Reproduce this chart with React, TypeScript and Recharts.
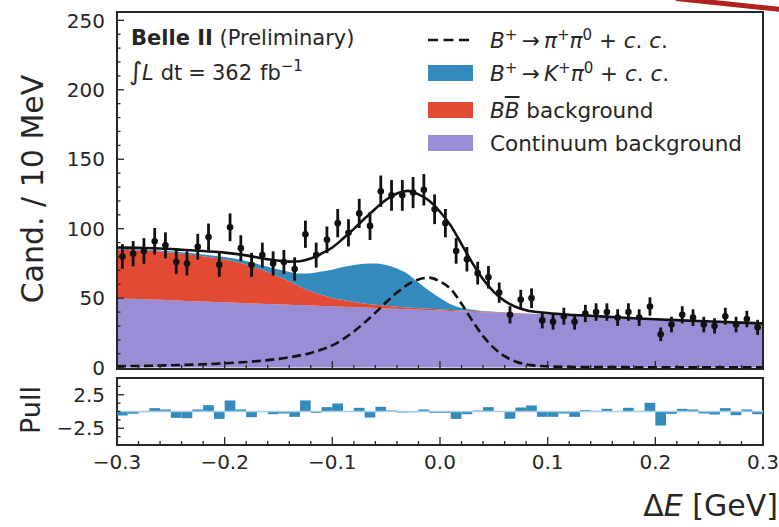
import React from 'react'
import {
  ComposedChart,
  Area,
  Line,
  Scatter,
  ErrorBar,
  Bar,
  XAxis,
  YAxis,
  ReferenceArea,
  ReferenceLine,
  Legend,
} from 'recharts'

const FONT = '"DejaVu Sans", sans-serif'
const INK = '#262626'
const PURPLE = '#988ED5'
const RED = '#E24A33'
const BLUE = '#348ABD'

// fit components, candidates / 10 MeV, on a Delta E grid [GeV]
const deGrid = [
  -0.3, -0.28, -0.26, -0.24, -0.22, -0.2, -0.18, -0.16,
  -0.14, -0.13, -0.12, -0.11, -0.1, -0.09, -0.08, -0.07, -0.06, -0.05, -0.04, -0.03, -0.02, -0.01,
  0, 0.01, 0.02, 0.03, 0.04, 0.05, 0.06, 0.07, 0.08,
  0.1, 0.12, 0.14, 0.16, 0.18, 0.2, 0.22, 0.24, 0.26, 0.28, 0.3,
]
const continuum = [
  50.0, 49.4, 48.8, 48.2, 47.6, 47.0, 46.4, 45.8,
  45.3, 45.0, 44.7, 44.4, 44.1, 43.8, 43.5, 43.2, 42.9, 42.6, 42.3, 42.0, 41.7, 41.4,
  41.1, 40.8, 40.5, 40.2, 39.9, 39.6, 39.3, 39.0, 38.7,
  38.2, 37.5, 36.8, 36.0, 35.2, 34.5, 33.9, 33.3, 32.7, 32.1, 31.5,
]
const bbBackground = [
  35.0, 35.0, 34.7, 33.8, 32.5, 30.8, 27.8, 23.0,
  16.8, 13.3, 10.3, 7.9, 6.1, 4.8, 3.8, 3.0, 2.4, 1.9, 1.5, 1.2, 1.0, 0.9,
  0.8, 0.7, 0.6, 0.6, 0.5, 0.5, 0.4, 0.4, 0.3,
  0.2, 0.1, 0.1, 0, 0, 0, 0, 0, 0, 0, 0,
]
const kpiSignal = [
  0.5, 0.6, 0.8, 1.0, 1.4, 1.9, 2.6, 3.8,
  6.8, 9.5, 13.0, 16.8, 20.3, 23.8, 26.6, 28.6, 29.6, 29.3, 27.5, 24.2, 18.5, 13.0,
  8.3, 4.2, 1.8, 0.8, 0.4, 0.2, 0.1, 0, 0,
  0, 0, 0, 0, 0, 0, 0, 0, 0, 0, 0,
]
const pipiSignal = [
  1.0, 1.2, 1.5, 1.9, 2.4, 3.1, 4.0, 5.4,
  7.4, 8.8, 10.5, 13.0, 16.0, 20.5, 26.0, 32.5, 39.5, 47.0, 54.0, 59.8, 63.5, 64.8,
  62.0, 56.5, 46.0, 33.8, 22.8, 14.2, 8.2, 4.4, 2.3,
  0.9, 0.5, 0.4, 0.4, 0.3, 0.3, 0.3, 0.3, 0.3, 0.3, 0.3,
]

// data, 10 MeV bins
const binCenters = [
  -0.295, -0.285, -0.275, -0.265, -0.255, -0.245, -0.235, -0.225, -0.215, -0.205,
  -0.195, -0.185, -0.175, -0.165, -0.155, -0.145, -0.135, -0.125, -0.115, -0.105,
  -0.095, -0.085, -0.075, -0.065, -0.055, -0.045, -0.035, -0.025, -0.015, -0.005,
  0.005, 0.015, 0.025, 0.035, 0.045, 0.055, 0.065, 0.075, 0.085, 0.095,
  0.105, 0.115, 0.125, 0.135, 0.145, 0.155, 0.165, 0.175, 0.185, 0.195,
  0.205, 0.215, 0.225, 0.235, 0.245, 0.255, 0.265, 0.275, 0.285, 0.295,
]
const counts = [
  80, 82, 84, 91, 88, 76, 75, 87, 94, 74,
  101, 86, 74, 81, 75, 76, 71, 96, 81, 92,
  104, 97, 111, 102, 127, 124, 124, 126, 128, 114,
  104, 84, 78, 68, 65, 54, 38, 49, 50, 34,
  33, 37, 33, 39, 40, 40, 36, 40, 36, 44,
  24, 31, 38, 36, 31, 30, 37, 31, 35, 29,
]
const countErrors = [
  8.9, 9.1, 9.2, 9.5, 9.4, 8.7, 8.7, 9.3, 9.7, 8.6,
  10.0, 9.3, 8.6, 9.0, 8.7, 8.7, 8.4, 9.8, 9.0, 9.6,
  10.2, 9.8, 10.5, 10.1, 11.3, 11.1, 11.1, 11.2, 11.3, 10.7,
  10.2, 9.2, 8.8, 8.2, 8.1, 7.3, 6.2, 7.0, 7.1, 5.8,
  5.7, 6.1, 5.7, 6.2, 6.3, 6.3, 6.0, 6.3, 6.0, 6.6,
  4.9, 5.6, 6.2, 6.0, 5.6, 5.5, 6.1, 5.6, 5.9, 5.4,
]
const pulls = [
  -0.6, -0.35, -0.1, 0.5, 0.3, -0.95, -1.0, 0.3, 0.95, -1.1,
  1.65, 0.3, -0.85, 0.0, -0.4, -0.3, -0.8, 1.65, -0.2, 0.65,
  1.2, 0.0, 0.55, -0.9, 0.7, 0.15, -0.15, -0.1, 0.3, -0.2,
  -0.2, -1.1, -0.4, 0.15, 0.65, 0.0, -1.1, 0.6, 0.9, -0.8,
  -0.8, -0.3, -0.8, 0.2, 0.1, 0.4, 0.0, 0.55, 0.05, 1.3,
  -2.1, -0.35, 0.4, 0.3, -0.3, -0.45, 0.5, -0.55, 0.3, -0.4,
]

const xTicks = [
  -0.3, -0.28, -0.26, -0.24, -0.22, -0.2, -0.18, -0.16, -0.14, -0.12, -0.1,
  -0.08, -0.06, -0.04, -0.02, 0, 0.02, 0.04, 0.06, 0.08, 0.1,
  0.12, 0.14, 0.16, 0.18, 0.2, 0.22, 0.24, 0.26, 0.28, 0.3,
]
const xMajor = [-0.3, -0.2, -0.1, 0, 0.1, 0.2, 0.3]
const yTicks = [
  0, 10, 20, 30, 40, 50, 60, 70, 80, 90, 100, 110, 120, 130, 140, 150,
  160, 170, 180, 190, 200, 210, 220, 230, 240, 250,
]
const yMajor = [0, 50, 100, 150, 200, 250]
const pullTicks = [-3.75, -2.5, -1.25, 0, 1.25, 2.5, 3.75]
const pullMajor = [-2.5, 2.5]

const X_DOMAIN: [number, number] = [-0.3, 0.3]
const Y_DOMAIN: [number, number] = [-1, 256]
const PULL_DOMAIN: [number, number] = [-5, 5]

const curveRows = deGrid.map((x, i) => ({
  x,
  cont: continuum[i],
  bb: bbBackground[i],
  kpi: kpiSignal[i],
  pipi: pipiSignal[i],
  total: continuum[i] + bbBackground[i] + kpiSignal[i] + pipiSignal[i],
}))
const binRows = binCenters.map((x, i) => ({ x, count: counts[i], err: countErrors[i] }))
const pullRows = binCenters.map((x, i) => ({ x, pull: pulls[i] }))

const near = (list: number[], v: number) => list.some((m) => Math.abs(m - v) < 1e-6)
const signed = (v: number, digits: number) =>
  (v < -1e-9 ? '\u2212' : '') + Math.abs(v).toFixed(digits)

// inward ticks; tickSize/tickMargin are 0 so (x, y) sits on the axis line
function BottomTick(props: any) {
  const { x, y, payload, showLabel } = props
  const major = near(xMajor, payload.value)
  return (
    <g>
      <line x1={x} x2={x} y1={y} y2={y - (major ? 8 : 4)} stroke={INK} strokeWidth={1.3} />
      {showLabel && major && (
        <text x={x} y={y + 24} textAnchor="middle" fontFamily={FONT} fontSize={20} fill={INK}>
          {signed(payload.value, 1)}
        </text>
      )}
    </g>
  )
}

function LeftTick(props: any) {
  const { x, y, payload, majors, digits } = props
  const major = near(majors, payload.value)
  return (
    <g>
      <line x1={x} x2={x + (major ? 7 : 3.5)} y1={y} y2={y} stroke={INK} strokeWidth={1.3} />
      {major && (
        <text x={x - 12} y={y} dy="0.36em" textAnchor="end" fontFamily={FONT} fontSize={20} fill={INK}>
          {signed(payload.value, digits)}
        </text>
      )}
    </g>
  )
}

const sup: React.CSSProperties = { fontSize: '70%', verticalAlign: '0.55em', lineHeight: 0 }

function FitLegend() {
  const rows = [
    {
      top: 16,
      key: 'pipi',
      handle: (
        <svg width={46} height={6}>
          <line x1={0} x2={46} y1={3} y2={3} stroke="#111" strokeWidth={2.6} strokeDasharray="10 5.5" />
        </svg>
      ),
      label: (
        <span>
          <i>B</i>
          <span style={sup}>+</span>
          {'\u2009\u2192\u2009'}
          <i>π</i>
          <span style={sup}>+</span>
          <i>π</i>
          <span style={sup}>0</span>
          {' + '}
          <i>c</i>. <i>c</i>.
        </span>
      ),
    },
    {
      top: 49,
      key: 'kpi',
      handle: <div style={{ width: 45, height: 16, background: BLUE }} />,
      label: (
        <span>
          <i>B</i>
          <span style={sup}>+</span>
          {'\u2009\u2192\u2009'}
          <i>K</i>
          <span style={sup}>+</span>
          <i>π</i>
          <span style={sup}>0</span>
          {' + '}
          <i>c</i>. <i>c</i>.
        </span>
      ),
    },
    {
      top: 86,
      key: 'bb',
      handle: <div style={{ width: 45, height: 16, background: RED }} />,
      label: (
        <span>
          <i>B</i>
          <i style={{ textDecoration: 'overline' }}>B</i> background
        </span>
      ),
    },
    {
      top: 119,
      key: 'cont',
      handle: <div style={{ width: 45, height: 16, background: PURPLE }} />,
      label: <span>Continuum background</span>,
    },
  ]
  return (
    <div style={{ position: 'relative', width: 345, height: 140, fontFamily: FONT, fontSize: 21.5, color: INK }}>
      {rows.map((r) => (
        <div
          key={r.key}
          style={{
            position: 'absolute',
            left: 0,
            top: r.top - 16,
            height: 32,
            display: 'flex',
            alignItems: 'center',
            whiteSpace: 'nowrap',
          }}
        >
          <div style={{ width: 62, paddingLeft: 4, display: 'flex', alignItems: 'center' }}>{r.handle}</div>
          {r.label}
        </div>
      ))}
    </div>
  )
}

export default function App() {
  return (
    <div
      style={{
        position: 'absolute',
        left: 0,
        top: 0,
        width: 779,
        height: 527,
        background: '#fff',
        overflow: 'hidden',
        fontFamily: FONT,
      }}
    >
      <div style={{ position: 'absolute', left: 0, top: 0 }}>
        <ComposedChart width={779} height={385} data={curveRows} margin={{ top: 12, right: 16, bottom: 0, left: 0 }}>
          <Area type="monotone" dataKey="cont" stackId="fit" stroke="none" fill={PURPLE} fillOpacity={1} isAnimationActive={false} />
          <Area type="monotone" dataKey="bb" stackId="fit" stroke="none" fill={RED} fillOpacity={1} isAnimationActive={false} />
          <Area type="monotone" dataKey="kpi" stackId="fit" stroke="none" fill={BLUE} fillOpacity={1} isAnimationActive={false} />
          <Line type="monotone" dataKey="pipi" stroke="#111" strokeWidth={2.6} strokeDasharray="9 4.5" dot={false} isAnimationActive={false} />
          <Line type="monotone" dataKey="total" stroke="#111" strokeWidth={2.6} dot={false} isAnimationActive={false} />
          <Scatter
            data={binRows}
            dataKey="count"
            isAnimationActive={false}
            shape={(p: any) => <circle cx={p.cx} cy={p.cy} r={3.3} fill="#111" />}
          >
            <ErrorBar dataKey="err" direction="y" width={0} stroke="#111" strokeWidth={2.8} isAnimationActive={false} />
          </Scatter>
          <ReferenceArea
            x1={X_DOMAIN[0]}
            x2={X_DOMAIN[1]}
            y1={Y_DOMAIN[0]}
            y2={Y_DOMAIN[1]}
            fill="none"
            stroke={INK}
            strokeWidth={2}
            ifOverflow="visible"
          />
          <XAxis
            type="number"
            dataKey="x"
            domain={X_DOMAIN}
            allowDataOverflow
            ticks={xTicks}
            interval={0}
            tickSize={0}
            tickMargin={0}
            axisLine={false}
            tickLine={false}
            height={16}
            tick={(p: any) => <BottomTick {...p} showLabel={false} />}
          />
          <YAxis
            type="number"
            domain={Y_DOMAIN}
            allowDataOverflow
            ticks={yTicks}
            interval={0}
            tickSize={0}
            tickMargin={0}
            axisLine={false}
            tickLine={false}
            width={117}
            tick={(p: any) => <LeftTick {...p} majors={yMajor} digits={0} />}
          />
          <Legend
            layout="vertical"
            align="center"
            verticalAlign="middle"
            content={() => <FitLegend />}
            wrapperStyle={{ left: 424, top: 24, width: 345, height: 140 }}
          />
        </ComposedChart>
      </div>

      <div style={{ position: 'absolute', left: 0, top: 370 }}>
        <ComposedChart width={779} height={157} data={pullRows} margin={{ top: 8, right: 16, bottom: 0, left: 0 }}>
          <ReferenceLine y={0} stroke="#a9cde6" strokeWidth={1.5} />
          <Bar dataKey="pull" fill={BLUE} barSize={10.7} isAnimationActive={false} />
          <ReferenceArea
            x1={X_DOMAIN[0]}
            x2={X_DOMAIN[1]}
            y1={PULL_DOMAIN[0]}
            y2={PULL_DOMAIN[1]}
            fill="none"
            stroke={INK}
            strokeWidth={2}
            ifOverflow="visible"
          />
          <XAxis
            type="number"
            dataKey="x"
            domain={X_DOMAIN}
            allowDataOverflow
            ticks={xTicks}
            interval={0}
            tickSize={0}
            tickMargin={0}
            axisLine={false}
            tickLine={false}
            height={82}
            tick={(p: any) => <BottomTick {...p} showLabel />}
          />
          <YAxis
            type="number"
            domain={PULL_DOMAIN}
            allowDataOverflow
            ticks={pullTicks}
            interval={0}
            tickSize={0}
            tickMargin={0}
            axisLine={false}
            tickLine={false}
            width={117}
            tick={(p: any) => <LeftTick {...p} majors={pullMajor} digits={1} />}
          />
        </ComposedChart>
      </div>

      <svg
        width={779}
        height={527}
        style={{ position: 'absolute', left: 0, top: 0, pointerEvents: 'none' }}
        fontFamily={FONT}
        fill={INK}
      >
        <text x={131} y={45} fontSize={21}>
          <tspan fontWeight="bold">Belle II</tspan> (Preliminary)
        </text>
        <text x={129} y={80} fontSize={21}>
          <tspan fontSize={25}>∫</tspan>
          <tspan fontStyle="italic">L</tspan>
          <tspan dx={7}>dt</tspan>
          <tspan dx={6}>=</tspan>
          <tspan dx={6}>362</tspan>
          <tspan dx={8}>fb</tspan>
          <tspan dy={-9} fontSize={15}>−1</tspan>
        </text>
        <text transform="translate(43 189) rotate(-90)" textAnchor="middle" fontSize={30}>
          Cand. / 10 MeV
        </text>
        <text transform="translate(40 410) rotate(-90)" textAnchor="middle" fontSize={27}>
          Pull
        </text>
        <text x={778} y={516} textAnchor="end" fontSize={30}>
          Δ<tspan fontStyle="italic">E</tspan> [GeV]
        </text>
        <line x1={676} y1={-1.5} x2={781} y2={9.5} stroke="#b0221b" strokeWidth={5} />
      </svg>
    </div>
  )
}
